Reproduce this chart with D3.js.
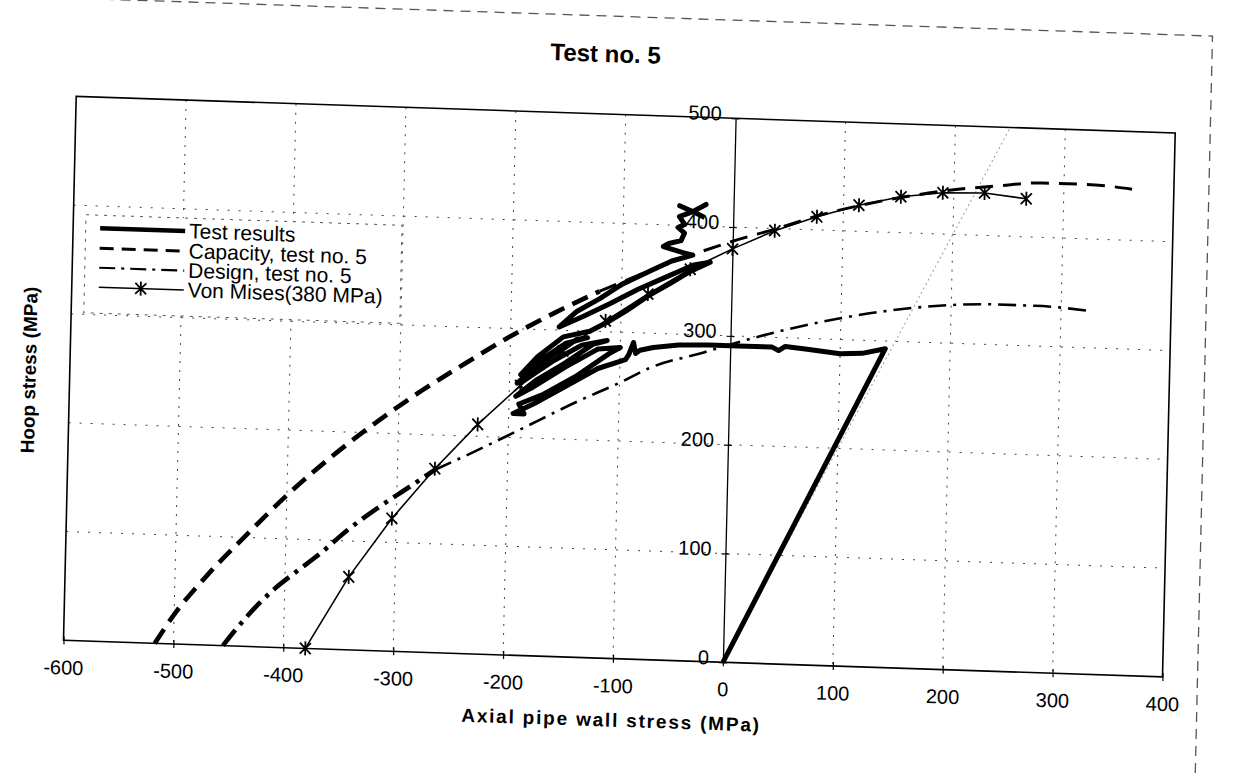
<!DOCTYPE html>
<html><head><meta charset="utf-8">
<script src="https://cdn.jsdelivr.net/npm/d3@7"></script>
<style>
html,body{margin:0;padding:0;background:#fff;}
svg{display:block;}
text{font-family:"Liberation Sans",Arial,Helvetica,sans-serif;fill:#000;}
</style></head><body>
<svg id="chart" width="1235" height="776"></svg>
<script>
// ---------- data ----------
const title = "Test no. 5";
const xTitle = "Axial pipe wall stress (MPa)";
const yTitle = "Hoop stress (MPa)";
const xTicks = [-600,-500,-400,-300,-200,-100,0,100,200,300,400];
const yTicks = [0,100,200,300,400,500];
const seriesNames = ["Test results","Capacity, test no. 5","Design, test no. 5","Von Mises(380 MPa)"];

// [axial, hoop] pairs
const testResults = [
  [0,0],[141,293],[120,288],[100,287],[70,290],[50,292],[44,288],[38,291],[7,291],[-20,291],
  [-47,290],[-70,287],[-82,284],[-86,281],[-88,291],[-92,280],[-95,275],
  [-120,266],[-150,248],[-175,233],[-196,222],[-186,222],[-191,231],
  [-170,240],[-140,258],[-110,280],[-100,286],
  [-120,284],[-150,266],[-180,246],[-194,238],
  [-175,254],[-150,270],[-125,288],[-112,292],
  [-135,287],[-160,272],[-185,254],[-193,250],
  [-180,262],[-160,278],[-140,292],[-130,294],
  [-150,288],[-172,272],[-190,258],
  [-175,275],[-152,294],[-128,300],
  [-112,309],[-95,320],[-76,334],[-55,347],[-38,358],[-20,367],
  [-35,364],[-60,352],[-85,340],[-110,326],[-135,313],[-156,303],
  [-140,318],[-120,330],[-100,344],[-75,357],[-55,367],[-36,373],
  [-45,375],[-63,380],[-58,383],[-47,386],[-44,393],[-50,398],[-44,401],[-49,408],
  [-37,413],[-25,420],[-37,413],[-49,418],[-37,413],[-26,408]
];
const capacity = [
  [-517,0],[-500,27],[-470,65],[-440,98],[-400,140],[-360,177],[-320,210],[-280,240],
  [-240,267],[-200,293],[-160,316],[-120,337],[-80,355],[-40,372],[0,387],[40,400],
  [80,414],[120,425],[160,434],[200,441],[240,446],[280,450],[320,450],[362,447]
];
const design = [
  [-455,0],[-435,26],[-410,53],[-390,70],[-368,88],[-344,110],[-316,132],[-288,152],
  [-266,168],[-236,183],[-196,204],[-136,236],[-99,254],[-73,268],[-24,284],[15,297],
  [97,319],[179,333],[240,337],[276,337],[325,334]
];
const vonMises = [
  [-380,0],[-342,67],[-304,122],[-266,169],[-228,211],[-190,248],[-152,281],[-114,310],
  [-76,336],[-38,360],[0,380],[38,398],[76,412],[114,424],[152,433],[190,438],[228,439],[266,435]
];
const loadLine = [[0,0],[250,500]];

// ---------- layout ----------
const W = 1235, H = 776;
const pw = 1099, ph = 544;
const svg = d3.select("#chart");
svg.append("rect").attr("width",W).attr("height",H).attr("fill","#fff");
// the scanned page is slightly rotated/skewed
const g = svg.append("g").attr("transform","matrix(1,0.0333,-0.02335,1,76.2,96.34)");

const x = d3.scaleLinear().domain([-600,400]).range([0,pw]);
const y = d3.scaleLinear().domain([0,500]).range([ph,0]);
const line = d3.line().x(d=>x(d[0])).y(d=>y(d[1]));
const smooth = d3.line().x(d=>x(d[0])).y(d=>y(d[1])).curve(d3.curveMonotoneX);

// outer chart-area border (partially visible in the scan)
g.append("path").attr("d",`M8,-98H1134V780`).attr("fill","none")
  .attr("stroke","#555").attr("stroke-width",1.3).attr("stroke-dasharray","10,7");

// grid
g.append("g").selectAll("line").data(xTicks.filter(d=>d>-600&&d<400&&d!==0)).join("line")
  .attr("x1",d=>x(d)).attr("x2",d=>x(d)).attr("y1",0).attr("y2",ph)
  .attr("stroke","#444").attr("stroke-width",1).attr("stroke-dasharray","2,7");
g.append("g").selectAll("line").data(yTicks.filter(d=>d>0&&d<500)).join("line")
  .attr("x1",0).attr("x2",pw).attr("y1",d=>y(d)).attr("y2",d=>y(d))
  .attr("stroke","#444").attr("stroke-width",1).attr("stroke-dasharray","2,9");

// faint stress-ratio line
g.append("path").attr("d",line(loadLine)).attr("fill","none")
  .attr("stroke","#999").attr("stroke-width",1).attr("stroke-dasharray","2,3");

// frame
g.append("rect").attr("x",0).attr("y",0).attr("width",pw).attr("height",ph)
  .attr("fill","none").attr("stroke","#000").attr("stroke-width",1.6);

// x axis
const xAxis = g.append("g").attr("transform",`translate(0,${ph})`)
  .call(d3.axisBottom(x).tickValues(xTicks).tickFormat(d=>String(d)).tickSizeOuter(0));
xAxis.attr("font-size",20).attr("font-family","Liberation Sans, Arial, sans-serif");
xAxis.select(".domain").remove();
xAxis.selectAll(".tick line").attr("y1",-4).attr("y2",4).attr("stroke","#000").attr("stroke-width",1.2);
xAxis.selectAll(".tick text").attr("y",34).attr("dy",0).attr("fill","#000");

// y axis through x = 0
const yAxis = g.append("g").attr("transform",`translate(${x(0)},0)`)
  .call(d3.axisLeft(y).tickValues(yTicks).tickFormat(d=>String(d)).tickSizeOuter(0));
yAxis.attr("font-size",20).attr("font-family","Liberation Sans, Arial, sans-serif");
yAxis.select(".domain").attr("stroke","#000").attr("stroke-width",1.3);
yAxis.selectAll(".tick line").attr("x1",-4).attr("x2",4).attr("stroke","#000").attr("stroke-width",1.2);
yAxis.selectAll(".tick text").attr("x",-14).attr("y",2).attr("dy",0).attr("fill","#000");

// series (the scan prints the lower-left parts of the limit curves heavier)
const designLow = design.filter(d=>d[0]<=-266), designHigh = design.filter(d=>d[0]>=-266);
const capLow = capacity.filter(d=>d[0]<=-120), capHigh = capacity.filter(d=>d[0]>=-120);
g.append("path").attr("d",smooth(designLow)).attr("fill","none").attr("stroke","#000")
  .attr("stroke-width",4.6).attr("stroke-dasharray","20,7,4,7");
g.append("path").attr("d",smooth(designHigh)).attr("fill","none").attr("stroke","#000")
  .attr("stroke-width",2.6).attr("stroke-dasharray","18,7,3,7");
g.append("path").attr("d",smooth(capLow)).attr("fill","none").attr("stroke","#000")
  .attr("stroke-width",4.6).attr("stroke-dasharray","17,9");
g.append("path").attr("d",smooth(capHigh)).attr("fill","none").attr("stroke","#000")
  .attr("stroke-width",3).attr("stroke-dasharray","18,10");
g.append("path").attr("d",line(vonMises)).attr("fill","none").attr("stroke","#000")
  .attr("stroke-width",1.6);
const star = "M-5.5,-5.5L5.5,5.5M-5.5,5.5L5.5,-5.5M0,-7L0,7";
g.append("g").selectAll("path").data(vonMises).join("path")
  .attr("transform",d=>`translate(${x(d[0])},${y(d[1])})`).attr("d",star)
  .attr("fill","none").attr("stroke","#000").attr("stroke-width",1.8);
g.append("path").attr("d",line(testResults)).attr("fill","none").attr("stroke","#000")
  .attr("stroke-width",5).attr("stroke-linejoin","round");

// titles
g.append("text").attr("x",528).attr("y",-52).attr("text-anchor","middle")
  .attr("font-size",24).attr("font-weight","bold").text(title);
g.append("text").attr("x",549).attr("y",612).attr("text-anchor","middle")
  .attr("font-size",19).attr("font-weight","bold").attr("letter-spacing",1.8).text(xTitle);
g.append("text").attr("transform","translate(-34,275) rotate(-90)").attr("text-anchor","middle")
  .attr("font-size",19).attr("font-weight","bold").text(yTitle);

// legend
const lg = g.append("g");
lg.append("rect").attr("x",12.6).attr("y",118).attr("width",316).attr("height",98)
  .attr("fill","#fff").attr("stroke","#555").attr("stroke-width",1).attr("stroke-dasharray","3,6");
const rowY = [131,151,170.5,190];
const styles = [
  {w:4.5,dash:null},
  {w:3,dash:"14,8"},
  {w:2.2,dash:"16,6,3,6"},
  {w:1.6,dash:null}
];
seriesNames.forEach((name,i)=>{
  lg.append("line").attr("x1",27).attr("x2",112).attr("y1",rowY[i]).attr("y2",rowY[i])
    .attr("stroke","#000").attr("stroke-width",styles[i].w)
    .attr("stroke-dasharray",styles[i].dash);
  if(i===3){
    lg.append("path").attr("transform",`translate(69,${rowY[i]})`).attr("d",star)
      .attr("fill","none").attr("stroke","#000").attr("stroke-width",1.8);
  }
  lg.append("text").attr("x",116).attr("y",rowY[i]+7).attr("font-size",21).text(name);
});
</script>
</body></html>
